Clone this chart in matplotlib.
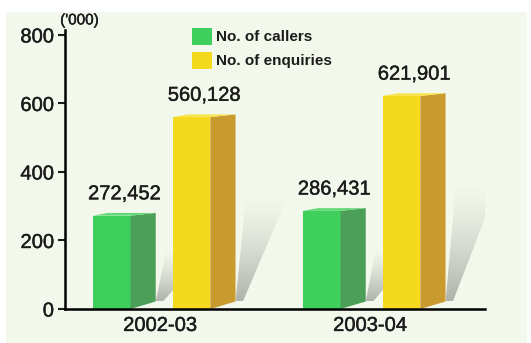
import numpy as np
import matplotlib.pyplot as plt
import matplotlib.patheffects as pe
from matplotlib.patches import Polygon, Rectangle

# data ('000)
years = ['2002-03', '2003-04']
callers = [272.452, 286.431]
enquiries = [560.128, 621.901]
callers_lbl = ['272,452', '286,431']
enquiries_lbl = ['560,128', '621,901']

plt.rcParams['font.family'] = ['Liberation Sans', 'DejaVu Sans']
txt = '#1c1c1c'
semi = [pe.withStroke(linewidth=0.3, foreground=txt)]

bg = '#f3f8ec'
green_front, green_side, green_top = '#3ecf5c', '#4c9f58', '#62d876'
yell_front, yell_side, yell_top = '#f4d91c', '#c99a2e', '#f8e44e'

fig = plt.figure(figsize=(5.31, 3.43), dpi=100, facecolor='white')
fig.patches.append(Rectangle((0.012, 0.0), 0.98, 0.965, transform=fig.transFigure,
                             facecolor=bg, edgecolor='none', zorder=-10))
ax = fig.add_axes([0.1224, 0.0991, 0.791, 0.799])
ax.set_facecolor('none')
ax.set_zorder(1)

x = range(len(years))
w = 0.18
depth = 0.12      # side face width in x units
rise_top = 8      # top edge rise (y units)
rise_bot = 22     # bottom edge rise of side face

# vertical fade for the shadows (darkest at the base)
fade = np.linspace(0, 1, 64)[:, None] * np.ones((1, 16))
shade = np.zeros((64, 16, 4))
shade[..., :3] = 0.33
shade[..., 3] = 0.42 * (1 - fade) ** 1.3


def bar3d(xc, h, front, side, top, lbl):
    x0, x1 = xc - w / 2, xc + w / 2
    xs = x1 + depth
    ht = h * 0.55
    clip = Polygon([(xs, rise_bot), (xs + 0.035, rise_bot), (xs + 0.25, rise_bot + ht),
                    (xs + 0.05, rise_bot + ht)], closed=True, facecolor='none',
                   edgecolor='none', transform=ax.transData)
    im = ax.imshow(shade, extent=(xs, xs + 0.26, rise_bot, rise_bot + ht), origin='lower',
                   aspect='auto', interpolation='bilinear', zorder=1)
    im.set_clip_path(clip)
    ax.bar(xc, h, width=w, color=front, zorder=3)
    ax.add_patch(Polygon([(x1, 0), (xs, rise_bot), (xs, h + rise_top), (x1, h)],
                         closed=True, facecolor=side, edgecolor='none', zorder=3))
    ax.add_patch(Polygon([(x0, h), (x1, h), (xs, h + rise_top), (x0 + depth * 0.6, h + rise_top)],
                         closed=True, facecolor=top, edgecolor='none', zorder=3))
    ax.text(xc + depth / 2, h + 36, lbl, ha='center', va='bottom', fontsize=14.5,
            color=txt, path_effects=semi)


for i in x:
    bar3d(i - 0.23, callers[i], green_front, green_side, green_top, callers_lbl[i])
    bar3d(i + 0.15, enquiries[i], yell_front, yell_side, yell_top, enquiries_lbl[i])

ax.set_xlim(-0.452, 1.548)
ax.set_ylim(0, 800)
ax.set_yticks([0, 200, 400, 600, 800])
ax.set_xticks(list(x))
ax.set_xticklabels(years)
ax.tick_params(axis='x', length=0, labelsize=14.5, pad=5, colors=txt)
ax.tick_params(axis='y', length=5, width=1.5, labelsize=14.5, pad=3, colors=txt)
for lab in ax.get_xticklabels() + ax.get_yticklabels():
    lab.set_path_effects(semi)
for s in ['top', 'right']:
    ax.spines[s].set_visible(False)
ax.spines['left'].set_linewidth(1.8)
ax.spines['bottom'].set_linewidth(1.8)
ax.spines['left'].set_bounds(0, 815)
ax.spines['left'].set_zorder(4)
ax.spines['bottom'].set_zorder(4)

ax.text(-0.475, 822, "('000)", fontsize=11, ha='left', va='bottom', color=txt, path_effects=semi)

# legend
ax.add_patch(Rectangle((0.155, 770), 0.095, 50, facecolor=green_front, edgecolor='none', clip_on=False))
ax.add_patch(Rectangle((0.155, 700), 0.095, 50, facecolor=yell_front, edgecolor='none', clip_on=False))
ax.text(0.265, 795, 'No. of callers', fontsize=11, fontweight='bold', va='center', ha='left', color=txt)
ax.text(0.265, 725, 'No. of enquiries', fontsize=11, fontweight='bold', va='center', ha='left', color=txt)

fig.savefig('out.png', dpi=100, facecolor='white')
